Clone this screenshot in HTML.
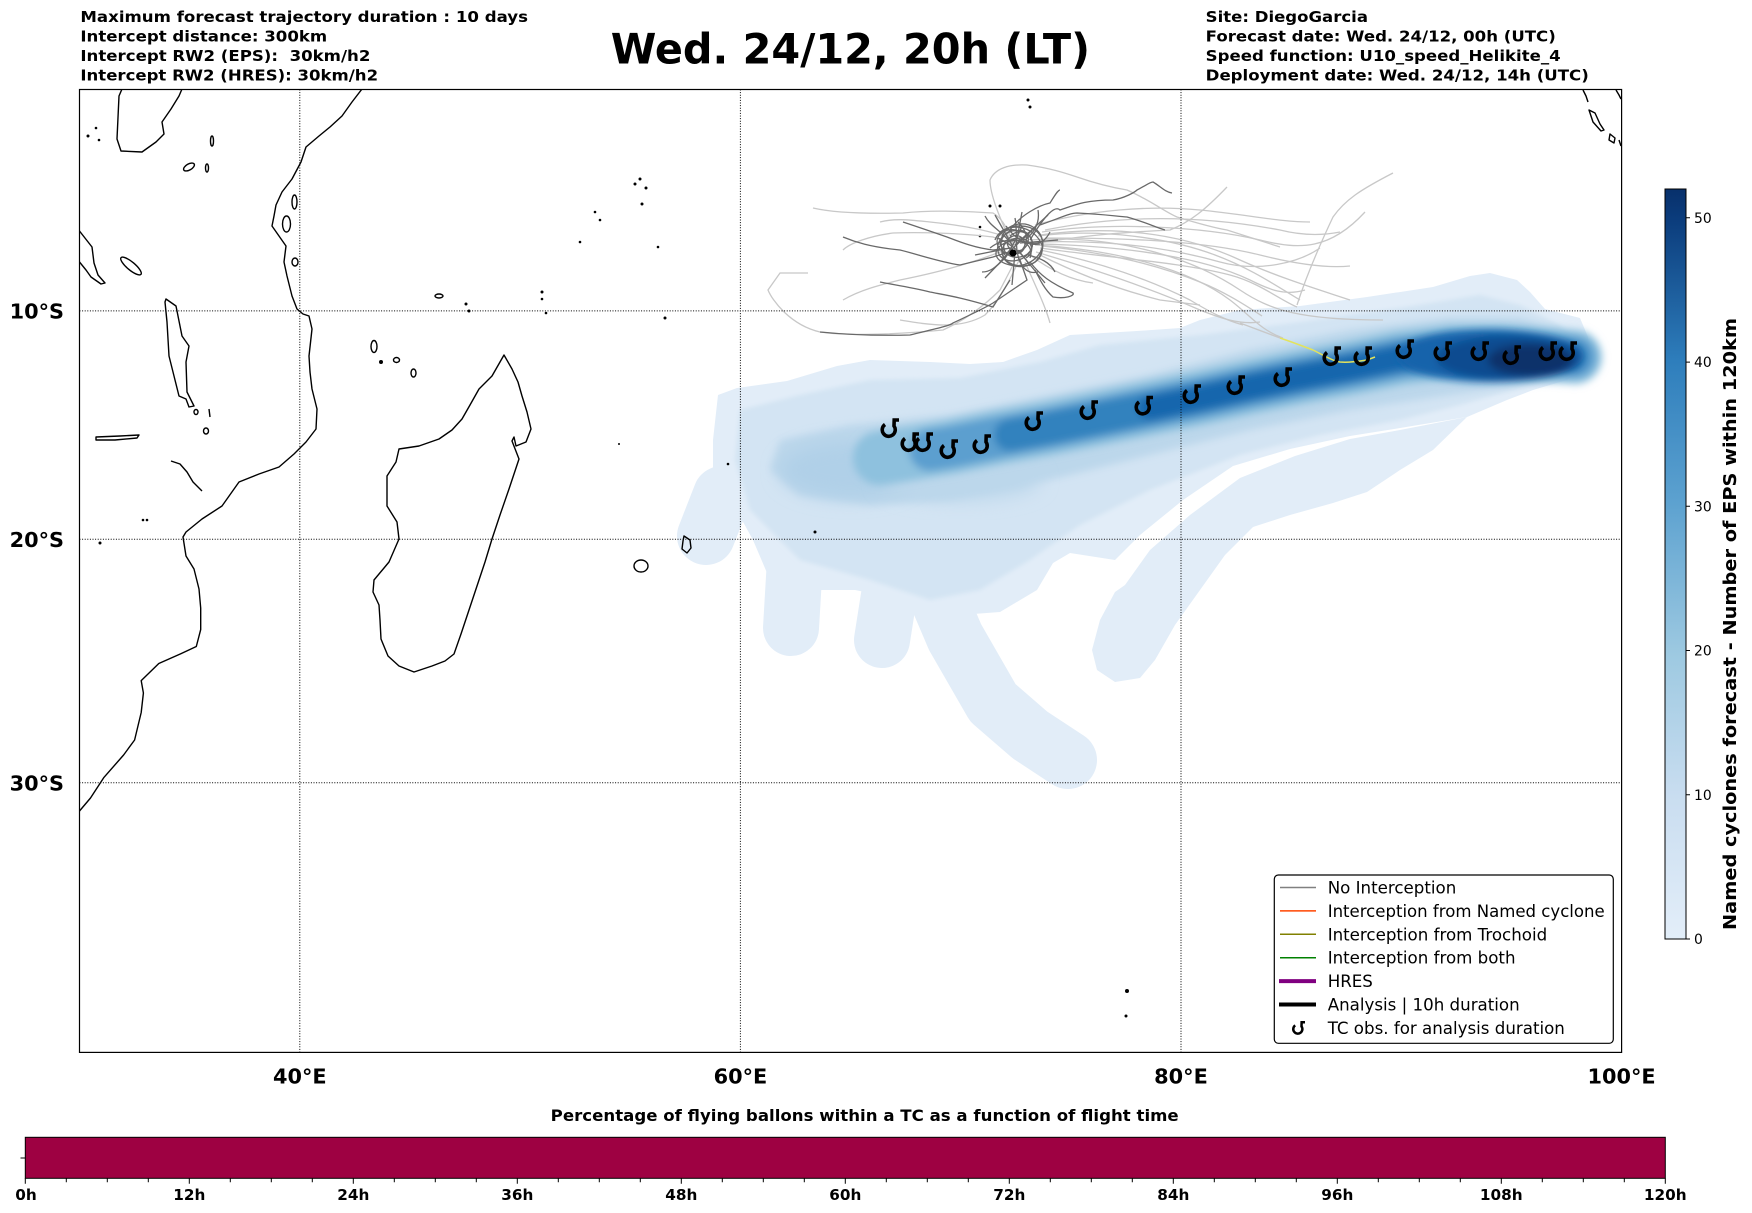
<!DOCTYPE html>
<html><head><meta charset="utf-8"><style>
html,body{margin:0;padding:0;background:#fff;}
svg{display:block;}
text{font-family:"DejaVu Sans","Liberation Sans",sans-serif;white-space:pre;}
</style></head><body>
<svg width="1752" height="1213" viewBox="0 0 1752 1213" xmlns="http://www.w3.org/2000/svg">
<defs>
<clipPath id="mc"><rect x="79.5" y="89.5" width="1542" height="963"/></clipPath>
<filter id="bl" x="-20%" y="-50%" width="140%" height="200%"><feGaussianBlur stdDeviation="4"/></filter>
<filter id="bl2" x="-20%" y="-50%" width="140%" height="200%"><feGaussianBlur stdDeviation="2"/></filter>
<filter id="bl3" x="-30%" y="-50%" width="160%" height="200%"><feGaussianBlur stdDeviation="9"/></filter>
<linearGradient id="cb" x1="0" y1="1" x2="0" y2="0">
<stop offset="0" stop-color="#e3eef9"/><stop offset="0.19" stop-color="#c9ddf0"/><stop offset="0.38" stop-color="#9dc9e1"/><stop offset="0.58" stop-color="#5da2d0"/><stop offset="0.77" stop-color="#2e7ebc"/><stop offset="0.96" stop-color="#0b3c7c"/><stop offset="1" stop-color="#08306b"/>
</linearGradient>
<g id="tc"><path d="M-4,-4.5 A6.5,6.5 0 1 0 5,-3 L5.2,-9 L10,-9" fill="none" stroke="#000" stroke-width="3.6"/></g>
</defs>

<!-- header texts -->
<g font-weight="bold" font-size="15.3" fill="#000">
<text x="80.4" y="22" textLength="447.6" lengthAdjust="spacingAndGlyphs">Maximum forecast trajectory duration : 10 days</text>
<text x="80.4" y="41.5" textLength="246.8" lengthAdjust="spacingAndGlyphs">Intercept distance: 300km</text>
<text x="80.4" y="61" textLength="290" lengthAdjust="spacingAndGlyphs">Intercept RW2 (EPS):  30km/h2</text>
<text x="80.4" y="80.5" textLength="297.7" lengthAdjust="spacingAndGlyphs">Intercept RW2 (HRES): 30km/h2</text>
<text x="1205.7" y="22" textLength="162.3" lengthAdjust="spacingAndGlyphs">Site: DiegoGarcia</text>
<text x="1205.7" y="41.5" textLength="350.1" lengthAdjust="spacingAndGlyphs">Forecast date: Wed. 24/12, 00h (UTC)</text>
<text x="1205.7" y="61" textLength="355" lengthAdjust="spacingAndGlyphs">Speed function: U10_speed_Helikite_4</text>
<text x="1205.7" y="80.5" textLength="383.1" lengthAdjust="spacingAndGlyphs">Deployment date: Wed. 24/12, 14h (UTC)</text>
</g>
<text x="610.7" y="63.3" font-size="41.7" font-weight="bold" textLength="479.3" lengthAdjust="spacingAndGlyphs">Wed. 24/12, 20h (LT)</text>

<g clip-path="url(#mc)">
<!-- plume outer -->
<g fill="#e2edf8" stroke="none">
<path d="M718,395 L737,388 787,381 837,366 870,360 930,362 970,364 1003,362 1037,350 1070,335 1137,331 1180,328 1200,320 1240,310 1300,306 1367,297 1433,287 1470,276 1490,273 1517,280 1530,292 1545,309 1580,318 1588,337 1590,357 1580,370 1567,380 1533,390 1507,400 1467,417 1400,428 1350,436 1290,449 1233,466 1183,500 1140,535 1115,560 1070,553 1053,563 1037,590 1000,612 960,615 935,615 917,615 900,600 880,595 855,590 830,590 800,590 770,580 753,540 742,520 733,503 730,485 713,477 713,440 Z"/>
<path d="M1467,417 L1433,450 1400,470 1367,492 1333,503 1290,515 1253,527 1225,555 1200,590 1175,625 1155,660 1140,678 1115,682 1097,670 1092,650 1100,620 1115,592 1125,585 1150,550 1190,515 1240,478 1295,456 1350,439 1400,430 Z"/>
</g>
<g fill="none" stroke="#e2edf8" stroke-linecap="round" stroke-linejoin="round">
<path d="M722,495 L706,536" stroke-width="58"/>
<path d="M795,560 L791,628" stroke-width="56"/>
<path d="M893,570 L882,640" stroke-width="56"/>
<path d="M935,590 L955,637 L993,703 L1030,735 L1068,760" stroke-width="58"/>
</g>
<!-- inner layers -->
<path d="M740,410 L800,395 870,380 960,378 1040,362 1100,345 1200,335 1300,322 1400,308 1480,295 1520,305 1560,325 1580,350 1570,372 1520,388 1460,405 1400,420 1320,435 1240,455 1150,490 1080,525 1030,560 980,590 930,600 870,580 800,560 750,510 735,460 Z" fill="#d3e4f3" filter="url(#bl2)"/>
<path d="M780,440 L850,425 950,415 1050,395 1150,375 1250,350 1350,330 1450,318 1520,318 1570,335 1585,357 1570,378 1520,385 1450,395 1350,410 1250,430 1150,455 1050,480 950,500 870,505 800,495 770,470 Z" fill="#bcd7eb" filter="url(#bl)"/>
<ellipse cx="850" cy="470" rx="70" ry="28" fill="#b0d0e8" filter="url(#bl3)"/>
<ellipse cx="960" cy="480" rx="80" ry="20" fill="#bcd7eb" filter="url(#bl3)"/>
<g fill="none" stroke-linecap="round" stroke-linejoin="round" filter="url(#bl)">
<path d="M880,458 L900,455 950,447 1000,437 1050,428 1100,418 1150,408 1200,398 1250,387 1300,377 1350,368 1400,358 1450,352 1500,352 1550,355 1575,357" stroke="#8ec1de" stroke-width="54"/>
<path d="M930,450 L950,447 1000,437 1050,428 1100,418 1150,408 1200,398 1250,387 1300,377 1350,368 1400,358 1450,352 1500,352 1550,355 1575,357" stroke="#5c9fcf" stroke-width="42"/>
<path d="M1010,435 L1050,428 1100,418 1150,408 1200,398 1250,387 1300,377 1350,368 1400,358 1450,352 1500,352 1550,355 1572,357" stroke="#3282be" stroke-width="32"/>
<path d="M1150,408 L1200,398 1250,387 1300,377 1350,368 1400,358 1450,352 1500,352 1550,355 1570,357" stroke="#1966ad" stroke-width="24"/>
</g>
<g filter="url(#bl)">
<ellipse cx="1490" cy="356" rx="92" ry="26" fill="#1764ab"/>
<ellipse cx="1508" cy="358" rx="72" ry="22" fill="#0d4b90"/>
<ellipse cx="1530" cy="360" rx="42" ry="16" fill="#08306b"/>
</g>

<!-- coastlines -->
<g fill="none" stroke="#000" stroke-width="1.4" stroke-linejoin="round">
<path d="M362,89 L352,102 342,116 330,127 319,136 306,147 301,162 292,179 282,192 276,205 274,216 272,226 279,236 286,246 284,262 287,276 292,296 297,309 303,314 309,316 312,329 309,356 310,372 312,389 317,409 316,429 306,442 294,454 279,467 259,474 239,482 222,506 202,519 186,532 183,537 186,556 194,569 199,589 200.7,608 200.7,629.6 196.3,646.5 180.8,653.7 158.8,663.5 141.2,680.6 143.4,693 141.2,712.5 134.6,740 123.6,755 103.7,777.7 90.5,798 79.5,811"/>
<path d="M504,355 L512,369 518,382 522,396 527,412 531,429 526,442 516,446 514,437 512,441 519,459 514,474 509,489 500,515 492,539 485,562 477,586 469,610 461,634 454,654 445,661 432,666 414,672 399,666 388,656 381,639 380,620 379,605 373,592 374,580 389,562 399,539 397,522 387,506 387,476 396,462 399,449 419,446 439,439 452,430 462,419 470,405 479,389 492,376 500,362 Z"/>
<path d="M122,89 L119,96 117,139 121,151 142,152 156,142 164,134 162,122 171,109 179,96 182,89"/>
<path d="M79.5,231 L92,247 94,263 98,275 105,283 101,284 91,277 86,270 79.5,262"/>
<path d="M166,299 L176,306 182,336 189,346 186,362 187,392 194,406 189,407 186,399 179,396 174,376 169,356 167,322 165,302 Z"/>
<path d="M96,437 L120,436 139,435 137,438 115,440 96,440 Z"/>
<path d="M171,461 L180,464 187,472 193,482 202,491"/>
<path d="M209,409 L210,417"/>
<ellipse cx="131" cy="266" rx="13" ry="4" transform="rotate(40 131 266)"/>
<ellipse cx="189" cy="167" rx="6" ry="3" transform="rotate(-30 189 167)"/>
<ellipse cx="207" cy="168" rx="1.5" ry="4"/>
<ellipse cx="212" cy="141" rx="1.5" ry="5"/>
<ellipse cx="196" cy="412" rx="2" ry="2.5"/>
<ellipse cx="206" cy="431" rx="2.5" ry="3"/>
<ellipse cx="286.5" cy="224" rx="4" ry="8"/>
<ellipse cx="294.5" cy="202" rx="2.5" ry="7"/>
<ellipse cx="295" cy="262" rx="3" ry="4"/>
<ellipse cx="374" cy="346.5" rx="3" ry="6"/>
<ellipse cx="396.5" cy="360" rx="3" ry="2.5"/>
<ellipse cx="413.5" cy="373" rx="2.5" ry="4"/>
<ellipse cx="439" cy="296" rx="4" ry="2"/>
<path d="M684,536 L690,540 691,548 687,553 682,549 683,541 Z"/>
<ellipse cx="641" cy="566" rx="7" ry="6"/>
<path d="M1589,110 L1595,113 1600,124 1604,130 1601,131 1593,122 Z"/>
<path d="M1610,134 L1615,138 1614,143 1609,140 Z"/>
<path d="M1583,90 L1586,96 1588,102"/>
<path d="M1616,90 L1619,95 1621,99"/>
<path d="M1619,140 L1621,146"/>
</g>
<g fill="#000">
<circle cx="381" cy="362" r="2"/>
<circle cx="466" cy="304" r="1.5"/><circle cx="469" cy="311" r="1.5"/><circle cx="542" cy="292" r="1.5"/><circle cx="542" cy="299" r="1.3"/><circle cx="546" cy="313" r="1.3"/>
<circle cx="635" cy="184" r="1.5"/><circle cx="640" cy="179" r="1.5"/><circle cx="646" cy="188" r="1.5"/><circle cx="642" cy="204" r="1.5"/><circle cx="595" cy="212" r="1.3"/><circle cx="600" cy="220" r="1.3"/><circle cx="580" cy="242" r="1.3"/><circle cx="658" cy="247" r="1.3"/>
<circle cx="665" cy="318" r="1.5"/><circle cx="815" cy="532" r="1.5"/><circle cx="728" cy="464" r="1.3"/><circle cx="619" cy="444" r="1"/>
<circle cx="1028" cy="100" r="1.5"/><circle cx="1030" cy="107" r="1.5"/>
<circle cx="1127" cy="991" r="2"/><circle cx="1126" cy="1016" r="1.5"/>
<circle cx="100" cy="543" r="1.5"/><circle cx="143" cy="520" r="1.3"/><circle cx="147" cy="520" r="1.3"/>
<circle cx="88" cy="136" r="1.5"/><circle cx="96" cy="128" r="1.3"/><circle cx="99" cy="140" r="1.3"/>
<circle cx="990" cy="206" r="1.5"/><circle cx="1000" cy="206" r="1.5"/><circle cx="980" cy="236" r="1.3"/><circle cx="980" cy="227" r="1.3"/>
</g>

<!-- light trajectories -->
<g fill="none" stroke="#c8c8c8" stroke-width="1.3">
<path d="M813,208 C830,212 860,214 903,213 C930,210 960,211 993,213 C1005,220 1010,235 1015,248"/>
<path d="M808,273 L780,273 L768,290 C772,300 790,325 820,332 C840,335 880,336 943,330 C965,320 985,305 1000,290 L1013,265"/>
<path d="M843,250 C850,243 870,236 893,233 C920,232 960,233 993,237 L1015,245"/>
<path d="M1015,250 C1000,220 990,195 990,180 C995,168 1010,164 1027,165 C1050,168 1065,173 1077,177 C1100,185 1115,188 1127,190 C1150,200 1165,212 1177,217 C1200,224 1215,228 1227,230 L1280,247"/>
<path d="M1030,245 C1080,235 1130,232 1170,230 C1190,222 1205,210 1227,187"/>
<path d="M1297,305 C1305,280 1315,255 1333,217 C1345,200 1360,190 1393,173"/>
<path d="M1030,240 C1100,235 1180,250 1240,290 C1270,310 1300,320 1383,320"/>
<path d="M1035,245 C1120,250 1190,270 1230,300 C1250,315 1260,330 1283,338"/>
<path d="M1040,235 C1110,225 1180,232 1240,260 C1280,278 1320,290 1350,300"/>
<path d="M1040,250 C1100,262 1150,280 1190,300 C1210,312 1225,320 1243,325"/>
<path d="M1045,230 C1120,215 1200,215 1280,230 C1300,235 1320,236 1340,232"/>
<path d="M1040,255 C1080,275 1120,290 1160,300 L1200,305"/>
<path d="M1038,242 C1100,240 1160,245 1220,262 C1260,273 1300,262 1320,248"/>
<path d="M1045,238 C1120,238 1200,240 1260,255 C1300,265 1330,268 1350,266"/>
<path d="M1035,225 C1090,210 1150,205 1200,210 C1250,215 1280,222 1310,222"/>
<path d="M1040,248 C1110,258 1180,262 1230,275 C1260,283 1280,300 1297,307"/>
<path d="M1042,232 C1110,222 1200,226 1260,240 C1300,250 1330,250 1365,212"/>
<path d="M1040,244 C1120,246 1200,256 1250,280 C1270,290 1285,296 1305,290"/>
<path d="M1036,252 C1090,268 1150,288 1200,310 C1220,318 1240,325 1260,322"/>
<path d="M1038,236 C1100,228 1170,238 1215,255 C1250,268 1275,285 1300,300"/>
<path d="M1042,246 C1100,252 1150,262 1200,282 C1225,292 1245,305 1262,316"/>
<path d="M1025,262 C1035,285 1045,305 1050,323"/>
<path d="M1020,258 C1010,280 1000,300 985,315 C960,330 930,325 900,320"/>
<path d="M1005,250 C980,260 950,270 900,280 C880,285 860,290 843,300"/>
<path d="M1030,255 C1050,270 1070,280 1093,283"/>
<path d="M1015,240 C990,230 960,225 930,222 C910,220 895,218 880,222"/>
<path d="M1240,323 L1280,338"/>
</g>
<!-- dark trajectories -->
<g fill="none" stroke="#696969" stroke-width="1.3">
<path d="M843,237 C855,242 870,247 900,250 C920,255 940,262 960,265 L993,257 L1015,250"/>
<path d="M903,222 C915,226 927,230 947,237 C960,242 975,248 993,250 L1012,248"/>
<path d="M820,332 C840,334 870,336 910,335 C930,330 950,326 953,323 C970,315 985,308 993,303 L1027,280 L1020,260"/>
<path d="M880,282 C895,285 910,287 930,292 C945,295 960,297 993,307 L1010,280"/>
<path d="M1030,262 C1040,275 1050,283 1073,293 C1075,296 1065,299 1053,297 C1045,290 1040,280 1035,270"/>
<path d="M1030,240 C1045,215 1055,205 1060,210 C1075,205 1085,200 1113,200 C1125,198 1135,192 1137,190 C1145,186 1150,182 1153,182 C1160,186 1165,192 1172,193"/>
<path d="M1040,225 C1060,218 1070,213 1077,213 C1100,214 1115,216 1127,217 C1145,222 1155,227 1165,230"/>
<path d="M1010,230 C1020,215 1040,205 1050,203 C1055,195 1058,190 1060,190"/>
<path d="M995,240 C1000,225 1030,220 1040,235 C1050,250 1030,270 1010,265 C995,262 990,250 1005,243 C1020,236 1035,245 1030,258"/>
<path d="M1000,232 C1015,222 1035,228 1042,245 C1045,262 1025,272 1008,262 C996,252 1004,238 1020,238 C1032,240 1036,252 1026,258"/>
<path d="M1005,255 C995,240 1005,222 1025,224 C1045,228 1048,250 1035,262 C1020,272 1000,265 1002,248"/>
<path d="M1012,245 L995,215 M1015,245 L1048,215 M1018,250 L1045,283 M1012,250 L985,278 M1020,243 L1058,240 M1010,248 L975,255 M1016,244 L1022,212 M1015,252 L1012,285"/>
<path d="M1008,240 C1000,230 990,226 985,216 M1025,240 C1035,232 1040,222 1038,210 M1028,255 C1040,258 1050,262 1055,272 M1005,258 C995,268 990,272 982,272"/>
<path d="M1010,236 C1020,228 1030,232 1028,242 C1026,252 1012,254 1008,246 C1004,238 1016,232 1022,238 C1030,246 1020,258 1012,252"/>
<path d="M1000,245 C1002,232 1014,228 1024,232 C1036,238 1034,252 1024,256 C1012,260 1002,254 1004,244"/>
<path d="M1018,222 C1026,230 1030,240 1022,250 C1014,258 1002,254 998,246 C994,236 1004,228 1016,230"/>
<path d="M1006,226 C1016,240 1028,246 1040,244 M1004,260 C1012,246 1024,240 1034,228 M998,238 C1010,244 1022,252 1030,266 M1022,226 C1016,240 1010,252 1000,262"/>
<path d="M1012,230 C1000,236 994,246 1000,256 C1008,264 1022,262 1030,252 C1036,242 1030,232 1020,230"/>
<path d="M990,248 C1000,240 1012,238 1026,242 C1040,246 1046,240 1050,232 M1015,218 C1018,232 1014,248 1020,262 C1024,270 1030,274 1038,272"/>
</g>
<path d="M1280,338 C1295,343 1305,347 1313,350 C1325,356 1333,361 1340,362 C1350,363 1360,361 1367,360 L1375,357" fill="none" stroke="#e3e35c" stroke-width="1.5"/>
<circle cx="1013" cy="253" r="3.5" fill="#000"/>

<!-- gridlines -->
<g stroke="#000" stroke-width="1" stroke-dasharray="1,1.6" fill="none">
<path d="M299.8,89.5 V1052.4 M740.4,89.5 V1052.4 M1181,89.5 V1052.4"/>
<path d="M79.5,310.9 H1621.6 M79.5,539.3 H1621.6 M79.5,782.8 H1621.6"/>
</g>

<!-- TC symbols -->
<use href="#tc" x="889" y="429"/><use href="#tc" x="909" y="443"/><use href="#tc" x="923" y="443"/><use href="#tc" x="948" y="450"/><use href="#tc" x="981" y="445"/><use href="#tc" x="1033" y="422"/><use href="#tc" x="1088" y="411"/><use href="#tc" x="1143" y="406.5"/><use href="#tc" x="1191" y="395"/><use href="#tc" x="1235" y="386"/><use href="#tc" x="1282" y="378"/><use href="#tc" x="1331" y="357"/><use href="#tc" x="1362" y="357"/><use href="#tc" x="1404" y="350"/><use href="#tc" x="1442" y="352"/><use href="#tc" x="1479" y="352"/><use href="#tc" x="1511" y="356"/><use href="#tc" x="1547" y="352"/><use href="#tc" x="1567" y="352"/>
</g>

<!-- map frame -->
<rect x="79.5" y="89.5" width="1542.1" height="962.9" fill="none" stroke="#000" stroke-width="1.2"/>

<!-- legend -->
<rect x="1274.3" y="875" width="339" height="168.3" rx="4" ry="4" fill="#fff" stroke="#000" stroke-width="1.2"/>
<g fill="none">
<path d="M1280,887.5 H1316" stroke="#808080" stroke-width="1.5"/>
<path d="M1280,910.9 H1316" stroke="#ff4500" stroke-width="1.5"/>
<path d="M1280,934.3 H1316" stroke="#808000" stroke-width="1.5"/>
<path d="M1280,957.7 H1316" stroke="#008000" stroke-width="1.5"/>
<path d="M1279,981.1 H1316" stroke="#800080" stroke-width="4"/>
<path d="M1279,1004.5 H1316" stroke="#000" stroke-width="4"/>
</g>
<use href="#tc" transform="translate(1298,1028.5) scale(0.7)"/>
<g font-size="16.67" fill="#000">
<text x="1327.7" y="893.5">No Interception</text>
<text x="1327.7" y="916.9" textLength="277" lengthAdjust="spacingAndGlyphs">Interception from Named cyclone</text>
<text x="1327.7" y="940.3">Interception from Trochoid</text>
<text x="1327.7" y="963.7">Interception from both</text>
<text x="1327.7" y="987.1">HRES</text>
<text x="1327.7" y="1010.5">Analysis | 10h duration</text>
<text x="1327.7" y="1033.9">TC obs. for analysis duration</text>
</g>

<!-- axis labels -->
<g font-size="20.83" font-weight="bold" fill="#000">
<text x="64" y="318.5" text-anchor="end">10°S</text>
<text x="64" y="546.9" text-anchor="end">20°S</text>
<text x="64" y="790.4" text-anchor="end">30°S</text>
<text x="299.8" y="1083.3" text-anchor="middle">40°E</text>
<text x="740.4" y="1083.3" text-anchor="middle">60°E</text>
<text x="1181" y="1083.3" text-anchor="middle">80°E</text>
<text x="1621.6" y="1083.3" text-anchor="middle">100°E</text>
</g>

<!-- right colorbar -->
<rect x="1665" y="189" width="21" height="750" fill="url(#cb)" stroke="#000" stroke-width="1"/>
<g stroke="#000" stroke-width="1">
<path d="M1686,939 H1690 M1686,794.8 H1690 M1686,650.5 H1690 M1686,506.3 H1690 M1686,362.1 H1690 M1686,217.8 H1690"/>
</g>
<g font-size="13.9" fill="#000">
<text x="1694" y="944">0</text>
<text x="1694" y="799.8">10</text>
<text x="1694" y="655.5">20</text>
<text x="1694" y="511.3">30</text>
<text x="1694" y="367.1">40</text>
<text x="1694" y="222.8">50</text>
</g>
<text transform="translate(1736,624) rotate(-90)" text-anchor="middle" font-size="18.06" font-weight="bold" textLength="612" lengthAdjust="spacingAndGlyphs">Named cyclones forecast - Number of EPS within 120km</text>

<!-- bottom colorbar -->
<text x="550.7" y="1121" font-size="16" font-weight="bold" textLength="628" lengthAdjust="spacingAndGlyphs">Percentage of flying ballons within a TC as a function of flight time</text>
<rect x="25.3" y="1137.3" width="1640" height="41" fill="#9e0142" stroke="#000" stroke-width="1"/>
<path d="M20.5,1158 H25.3" stroke="#000" stroke-width="1"/>
<g stroke="#000" stroke-width="1">
<path d="M25.3,1178.3 v5.5 M189.3,1178.3 v5.5 M353.3,1178.3 v5.5 M517.3,1178.3 v5.5 M681.3,1178.3 v5.5 M845.3,1178.3 v5.5 M1009.3,1178.3 v5.5 M1173.3,1178.3 v5.5 M1337.3,1178.3 v5.5 M1501.3,1178.3 v5.5 M1665.3,1178.3 v5.5"/>
<path d="M66.3,1178.3 v4 M107.3,1178.3 v4 M148.3,1178.3 v4 M230.3,1178.3 v4 M271.3,1178.3 v4 M312.3,1178.3 v4 M394.3,1178.3 v4 M435.3,1178.3 v4 M476.3,1178.3 v4 M558.3,1178.3 v4 M599.3,1178.3 v4 M640.3,1178.3 v4 M722.3,1178.3 v4 M763.3,1178.3 v4 M804.3,1178.3 v4 M886.3,1178.3 v4 M927.3,1178.3 v4 M968.3,1178.3 v4 M1050.3,1178.3 v4 M1091.3,1178.3 v4 M1132.3,1178.3 v4 M1214.3,1178.3 v4 M1255.3,1178.3 v4 M1296.3,1178.3 v4 M1378.3,1178.3 v4 M1419.3,1178.3 v4 M1460.3,1178.3 v4 M1542.3,1178.3 v4 M1583.3,1178.3 v4 M1624.3,1178.3 v4"/>
</g>
<g font-size="15.28" font-weight="bold" fill="#000" text-anchor="middle">
<text x="26" y="1200">0h</text>
<text x="189.3" y="1200">12h</text>
<text x="353.3" y="1200">24h</text>
<text x="517.3" y="1200">36h</text>
<text x="681.3" y="1200">48h</text>
<text x="845.3" y="1200">60h</text>
<text x="1009.3" y="1200">72h</text>
<text x="1173.3" y="1200">84h</text>
<text x="1337.3" y="1200">96h</text>
<text x="1501.3" y="1200">108h</text>
<text x="1665.3" y="1200">120h</text>
</g>
</svg>
</body></html>
